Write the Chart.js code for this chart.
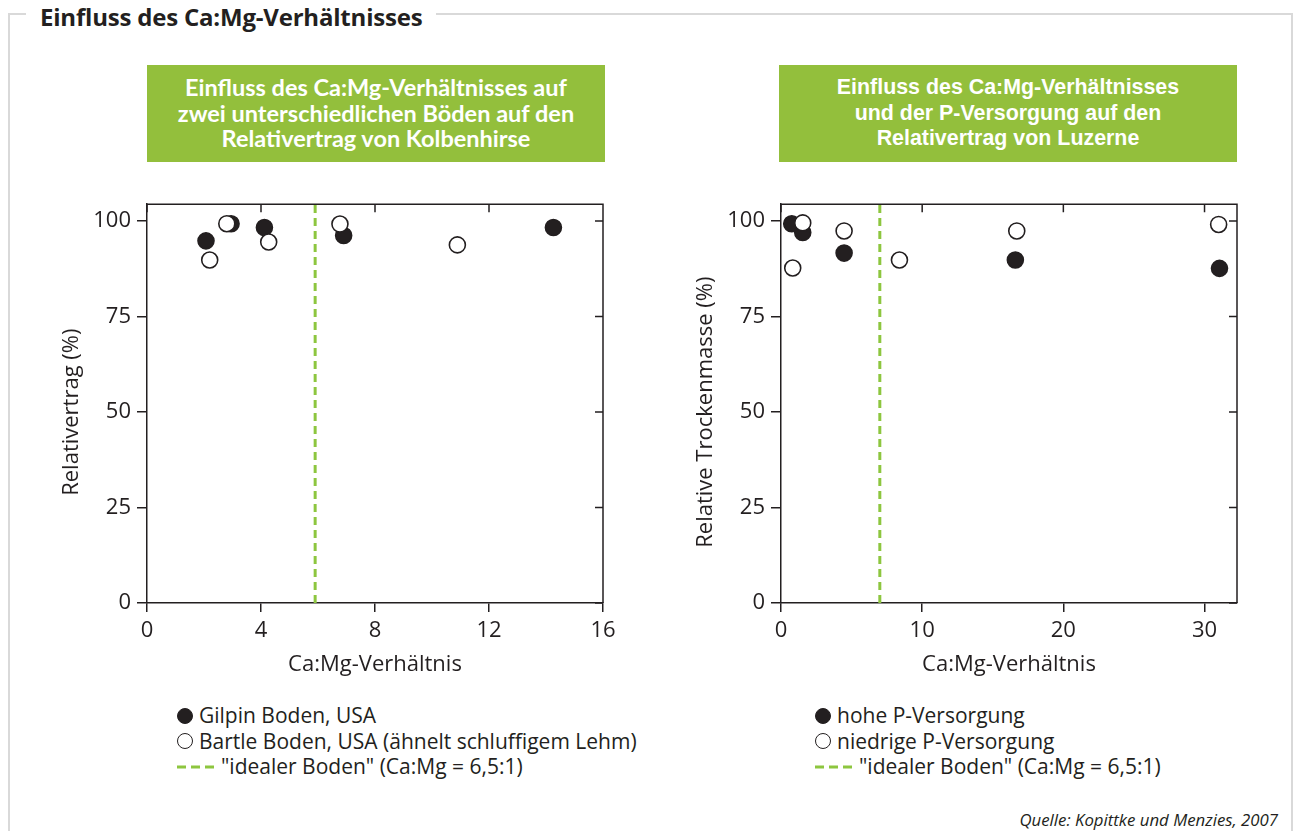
<!DOCTYPE html>
<html lang="de">
<head>
<meta charset="utf-8">
<script src="https://cdn.jsdelivr.net/npm/chart.js@4"></script>
<style>
  html, body { margin: 0; padding: 0; background: #fff; }
  body { width: 1296px; height: 831px; position: relative; overflow: hidden; font-family: "Open Sans", sans-serif; color: #231f20; }
  .frame-top { position: absolute; left: 9px; top: 13px; width: 1284px; height: 2px; background: #d9d9d9; }
  .frame-left { position: absolute; left: 8px; top: 13px; width: 2px; height: 830px; background: #d9d9d9; }
  .frame-right { position: absolute; left: 1291px; top: 13px; width: 2px; height: 830px; background: #d9d9d9; }
  .header { position: absolute; left: 26px; top: 3px; padding: 0 14px 0 14px; background: #fff; font-weight: 700; font-size: 24px; line-height: 28px; letter-spacing: -0.2px; }
  .box { position: absolute; top: 65px; height: 97px; background: #93bf3c; color: #fff; font-weight: 700; text-align: center; display: flex; align-items: center; justify-content: center; }
  .box.l { left: 147px; width: 458px; font-family: Lato, sans-serif; font-size: 23.5px; line-height: 25.5px; }
  .box.r { left: 779px; width: 458px; font-family: "Liberation Sans", Arial, sans-serif; font-size: 21.4px; line-height: 25.5px; }
  canvas { position: absolute; }
  .legend { position: absolute; font-size: 21px; line-height: 25.5px; }
  .legend div { display: flex; align-items: center; white-space: nowrap; height: 25.5px; }
  .dot { width: 16px; height: 16px; border-radius: 50%; box-sizing: border-box; border: 1.6px solid #231f20; margin-right: 6px; }
  .dot.f { background: #231f20; }
  .dash { width: 38px; height: 4px; margin-right: 6px; }
  .src { position: absolute; right: 18px; top: 809px; font-style: italic; font-size: 16.8px; line-height: 22px; }
</style>
</head>
<body>
<div class="frame-top"></div>
<div class="frame-left"></div>
<div class="frame-right"></div>
<div class="header">Einfluss des Ca:Mg-Verhältnisses</div>

<div class="box l">Einfluss des Ca:Mg-Verhältnisses auf<br>zwei unterschiedlichen Böden auf den<br>Relativertrag von Kolbenhirse</div>
<div class="box r">Einfluss des Ca:Mg-Verhältnisses<br>und der P-Versorgung auf den<br>Relativertrag von Luzerne</div>

<canvas id="chartL" width="600" height="493" style="left:40px; top:185px;"></canvas>
<canvas id="chartR" width="587" height="493" style="left:670px; top:185px;"></canvas>

<div class="legend" style="left:177px; top:703px;">
  <div><span class="dot f"></span>Gilpin Boden, USA</div>
  <div><span class="dot"></span>Bartle Boden, USA (ähnelt schluffigem Lehm)</div>
  <div><svg class="dash" viewBox="0 0 38 4"><line x1="0" y1="2" x2="38" y2="2" stroke="#8dc63f" stroke-width="3" stroke-dasharray="9 5"/></svg>"idealer Boden" (Ca:Mg = 6,5:1)</div>
</div>
<div class="legend" style="left:815px; top:703px;">
  <div><span class="dot f"></span>hohe P-Versorgung</div>
  <div><span class="dot"></span>niedrige P-Versorgung</div>
  <div><svg class="dash" viewBox="0 0 38 4"><line x1="0" y1="2" x2="38" y2="2" stroke="#8dc63f" stroke-width="3" stroke-dasharray="9 5"/></svg>"idealer Boden" (Ca:Mg = 6,5:1)</div>
</div>

<div class="src">Quelle: Kopittke und Menzies, 2007</div>

<script>
// --- Daten: Kolbenhirse (links) ---
const gilpinX = [2.07, 2.95, 4.12, 6.9, 14.26];
const gilpinY = [94.8, 99.3, 98.3, 96.2, 98.3];
const bartleX = [2.2, 2.8, 4.27, 6.77, 10.89];
const bartleY = [89.8, 99.3, 94.5, 99.2, 93.75];
const idealL = 5.9;
const xTicksL = [0, 4, 8, 12, 16];

// --- Daten: Luzerne (rechts) ---
const hoheX = [0.76, 1.54, 4.47, 16.6, 31.06];
const hoheY = [99.3, 97.0, 91.6, 89.8, 87.6];
const niedrigX = [0.83, 1.54, 4.47, 8.39, 16.7, 31.0];
const niedrigY = [87.7, 99.5, 97.4, 89.8, 97.4, 99.1];
const idealR = 7.0;
const xTicksR = [0, 10, 20, 30];

const yTicks = [0, 25, 50, 75, 100];
const yMax = 104.4;

const ink = '#231f20';
const green = '#8dc63f';
const fontFam = "'Open Sans', sans-serif";

const toPts = (xs, ys) => xs.map((x, i) => ({ x: x, y: ys[i] }));

// Rahmen oben/rechts mit nach innen zeigenden Ticks
const mirrorFrame = {
    id: 'mirrorFrame',
    afterDraw(chart) {
        const { ctx, chartArea: a, scales } = chart;
        ctx.save();
        ctx.strokeStyle = ink;
        ctx.lineWidth = 1.5;
        ctx.beginPath();
        ctx.moveTo(a.left, a.top); ctx.lineTo(a.right, a.top); ctx.lineTo(a.right, a.bottom);
        scales.x.ticks.forEach(t => {
            const px = scales.x.getPixelForValue(t.value);
            ctx.moveTo(px, a.top); ctx.lineTo(px, a.top + 8);
        });
        scales.y.ticks.forEach(t => {
            const py = scales.y.getPixelForValue(t.value);
            ctx.moveTo(a.right, py); ctx.lineTo(a.right - 8, py);
        });
        ctx.stroke();
        ctx.restore();
    }
};

function makeChart(id, filled, open, ideal, xMax, xTicks, yTitle, yAxisW, padLeft, padRight) {
    return new Chart(document.getElementById(id), {
        type: 'scatter',
        data: {
            datasets: [
                { data: toPts(open[0], open[1]), backgroundColor: '#fff', borderColor: ink, borderWidth: 1.6, pointRadius: 8, pointHoverRadius: 8 },
                { data: toPts(filled[0], filled[1]), backgroundColor: ink, borderColor: ink, borderWidth: 1.6, pointRadius: 8, pointHoverRadius: 8 },
                { type: 'line', data: [{ x: ideal, y: 0 }, { x: ideal, y: yMax }], borderColor: green, borderWidth: 3, borderDash: [8, 5], pointRadius: 0, fill: false }
            ]
        },
        options: {
            responsive: false,
            animation: false,
            layout: { padding: { left: padLeft, top: 17, right: padRight, bottom: 0 } },
            plugins: { legend: { display: false }, tooltip: { enabled: false } },
            scales: {
                x: {
                    type: 'linear', min: 0, max: xMax,
                    afterBuildTicks: s => { s.ticks = xTicks.map(v => ({ value: v })); },
                    afterFit: s => { s.height = 75; },
                    grid: { drawOnChartArea: false, drawTicks: true, tickLength: 9, color: ink, lineWidth: 1.5 },
                    border: { color: ink, width: 1.5 },
                    ticks: { color: ink, padding: 6, font: { family: fontFam, size: 22 } },
                    title: { display: true, text: 'Ca:Mg-Verhältnis', color: ink, padding: 0, font: { family: fontFam, size: 22 } }
                },
                y: {
                    type: 'linear', min: 0, max: yMax,
                    afterBuildTicks: s => { s.ticks = yTicks.map(v => ({ value: v })); },
                    afterFit: s => { s.width = yAxisW; },
                    grid: { drawOnChartArea: false, drawTicks: true, tickLength: 10, color: ink, lineWidth: 1.5 },
                    border: { color: ink, width: 1.5 },
                    ticks: { color: ink, padding: 6, font: { family: fontFam, size: 22 } },
                    // drei Leerzeichen am Ende schieben den Titel etwas nach unten wie im Original
                    title: { display: true, text: yTitle + '   ', color: ink, padding: 0, font: { family: fontFam, size: 22 } }
                }
            }
        },
        plugins: [mirrorFrame]
    });
}

makeChart('chartL', [gilpinX, gilpinY], [bartleX, bartleY], idealL, 16, xTicksL, 'Relativertrag (%)', 88, 19, 37);
makeChart('chartR', [hoheX, hoheY], [niedrigX, niedrigY], idealR, 32.3, xTicksR, 'Relative Trockenmasse (%)', 88, 23, 20);
</script>
</body>
</html>
